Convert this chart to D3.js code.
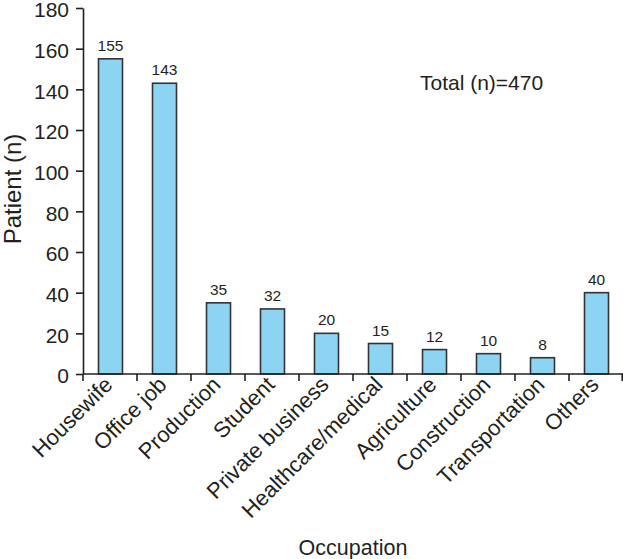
<!DOCTYPE html>
<html><head><meta charset="utf-8">
<script src="https://cdn.jsdelivr.net/npm/d3@7"></script>
<style>body{margin:0;background:#fff}svg{display:block}text{font-family:"Liberation Sans",Arial,sans-serif;fill:#231f20}</style>
</head><body>
<script>
const categories = ["Housewife","Office job","Production","Student","Private business","Healthcare/medical","Agriculture","Construction","Transportation","Others"];
const values = [155,143,35,32,20,15,12,10,8,40];
const yTicks = [0,20,40,60,80,100,120,140,160,180];
const totalLabel = "Total (n)=470";
const xTitle = "Occupation";
const yTitle = "Patient (n)";

const W = 623, H = 559;
const x0 = 83, x1 = 623, yTop = 8, yBot = 374;
const svg = d3.select("body").append("svg").attr("width", W).attr("height", H);
const x = d3.scaleBand().domain(categories).range([x0, x1]).paddingInner(0).paddingOuter(0);
const y = d3.scaleLinear().domain([0,180]).range([yBot, yTop]);
const bw = 24;
const ink = "#231f20";

// bars
svg.selectAll("rect.bar").data(categories).enter().append("rect")
  .attr("class","bar")
  .attr("x", d => x(d) + x.bandwidth()/2 - bw/2 + 0.5)
  .attr("y", (d,i) => y(values[i]))
  .attr("width", bw)
  .attr("height", (d,i) => y(0) - y(values[i]))
  .attr("fill", "#8dd4f2")
  .attr("stroke", "#333333")
  .attr("stroke-width", 1.6);

// value labels
svg.selectAll("text.val").data(categories).enter().append("text")
  .attr("class","val")
  .attr("x", d => x(d) + x.bandwidth()/2 + 0.5)
  .attr("y", (d,i) => y(values[i]) - 8)
  .attr("text-anchor","middle")
  .attr("font-size", 15.5)
  .text((d,i) => values[i]);

// y axis
const ya = svg.append("g").attr("transform", `translate(${x0},0)`)
  .call(d3.axisLeft(y).tickValues(yTicks).tickSize(7).tickPadding(7).tickSizeOuter(0));
ya.select(".domain").attr("stroke", ink).attr("stroke-width", 1.6);
ya.selectAll(".tick line").attr("stroke", ink).attr("stroke-width", 1.6);
ya.selectAll(".tick text").attr("font-size", 21).attr("dy", "0.42em")
  .attr("font-family", '"Liberation Sans",Arial,sans-serif').attr("fill", ink);

// x axis line
svg.append("line").attr("x1", x0).attr("x2", x1).attr("y1", yBot).attr("y2", yBot)
  .attr("stroke", ink).attr("stroke-width", 1.6);
// x boundary ticks
const bounds = categories.map(d => x(d)).concat([x1 - 0.8]);
svg.selectAll("line.xt").data(bounds).enter().append("line")
  .attr("x1", d => d).attr("x2", d => d).attr("y1", yBot).attr("y2", yBot + 7)
  .attr("stroke", ink).attr("stroke-width", 1.6);

// category labels
svg.selectAll("text.cat").data(categories).enter().append("text")
  .attr("class","cat")
  .attr("transform", d => `translate(${x(d) + x.bandwidth()/2 + 4},${yBot + 12}) rotate(-45)`)
  .attr("text-anchor","end")
  .attr("font-size", 22)
  .text(d => d);

// total
svg.append("text").attr("x", 420).attr("y", 90).attr("font-size", 21).text(totalLabel);

// titles
svg.append("text").attr("x", (x0 + x1)/2).attr("y", 555).attr("text-anchor","middle").attr("font-size", 21.5).text(xTitle);
svg.append("text").attr("transform", `translate(21,189) rotate(-90)`).attr("text-anchor","middle").attr("font-size", 24).text(yTitle);
</script>
</body></html>
